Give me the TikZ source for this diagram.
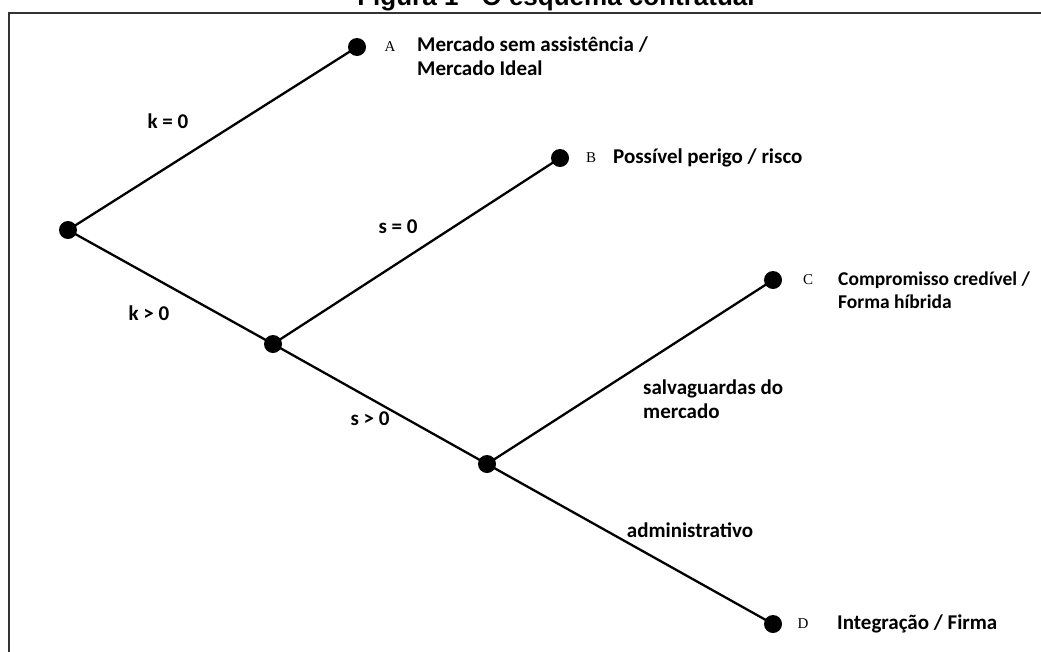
\documentclass[tikz,border=0pt]{standalone}
\usepackage{fontspec}
\setmainfont{Carlito}
\newfontfamily\titlefont{Liberation Sans}
\newfontfamily\letterfont{Liberation Serif}
\begin{document}
\begin{tikzpicture}[x=1pt,y=-1pt,
  dot/.style={circle,fill=black,inner sep=0pt,minimum size=18pt},
  branch/.style={line width=2.3pt,black},
  lbl/.style={font=\fontsize{21}{23.5}\selectfont\bfseries,inner sep=0pt,anchor=west,align=left},
  letter/.style={font=\letterfont\fontsize{15}{17}\selectfont,inner sep=0pt},
  elbl/.style={font=\fontsize{21}{23.5}\selectfont\bfseries,inner sep=0pt}
]
\useasboundingbox (0,0) rectangle (1041,651);
\fill[white] (0,0) rectangle (1041,651);
\node[font=\titlefont\bfseries\fontsize{26}{30}\selectfont,anchor=base,inner sep=0pt] (title) at (556,5) {Figura 1 - O esquema contratual};
\draw[line width=1.8pt,black!80] (9,13) rectangle (1060,670);

\node[dot] (root) at (68,230) {};
\node[dot] (A) at (357,47) {};
\node[dot] (B) at (560,158) {};
\node[dot] (n2) at (273,344) {};
\node[dot] (C) at (773,280) {};
\node[dot] (n3) at (487,464) {};
\node[dot] (D) at (773,624) {};

\draw[branch] (root.center) -- (A.center);
\draw[branch] (root.center) -- (n2.center);
\draw[branch] (n2.center) -- (B.center);
\draw[branch] (n2.center) -- (n3.center);
\draw[branch] (n3.center) -- (C.center);
\draw[branch] (n3.center) -- (D.center);

\node[letter] (lA) at (390,47) {A};
\node[letter] (lB) at (591,158) {B};
\node[letter] (lC) at (808,280) {C};
\node[letter] (lD) at (803,624) {D};

\node[lbl] (tA) at (417,56) {Mercado sem assistência /\\Mercado Ideal};
\node[lbl] (tB) at (613,158) {Possível perigo / risco};
\node[lbl,font=\fontsize{19.5}{23.5}\selectfont\bfseries] (tC) at (838,290) {Compromisso credível /\\Forma híbrida};
\node[lbl] (tD) at (837,624) {Integração / Firma};

\node[elbl] (e1) at (168,121) {k = 0};
\node[elbl] (e2) at (149,313) {k > 0};
\node[elbl] (e3) at (398,227) {s = 0};
\node[elbl] (e4) at (370,419) {s > 0};
\node[lbl] (e5) at (643,399) {salvaguardas do\\mercado};
\node[elbl] (e6) at (690,530) {administrativo};
\end{tikzpicture}
\end{document}
